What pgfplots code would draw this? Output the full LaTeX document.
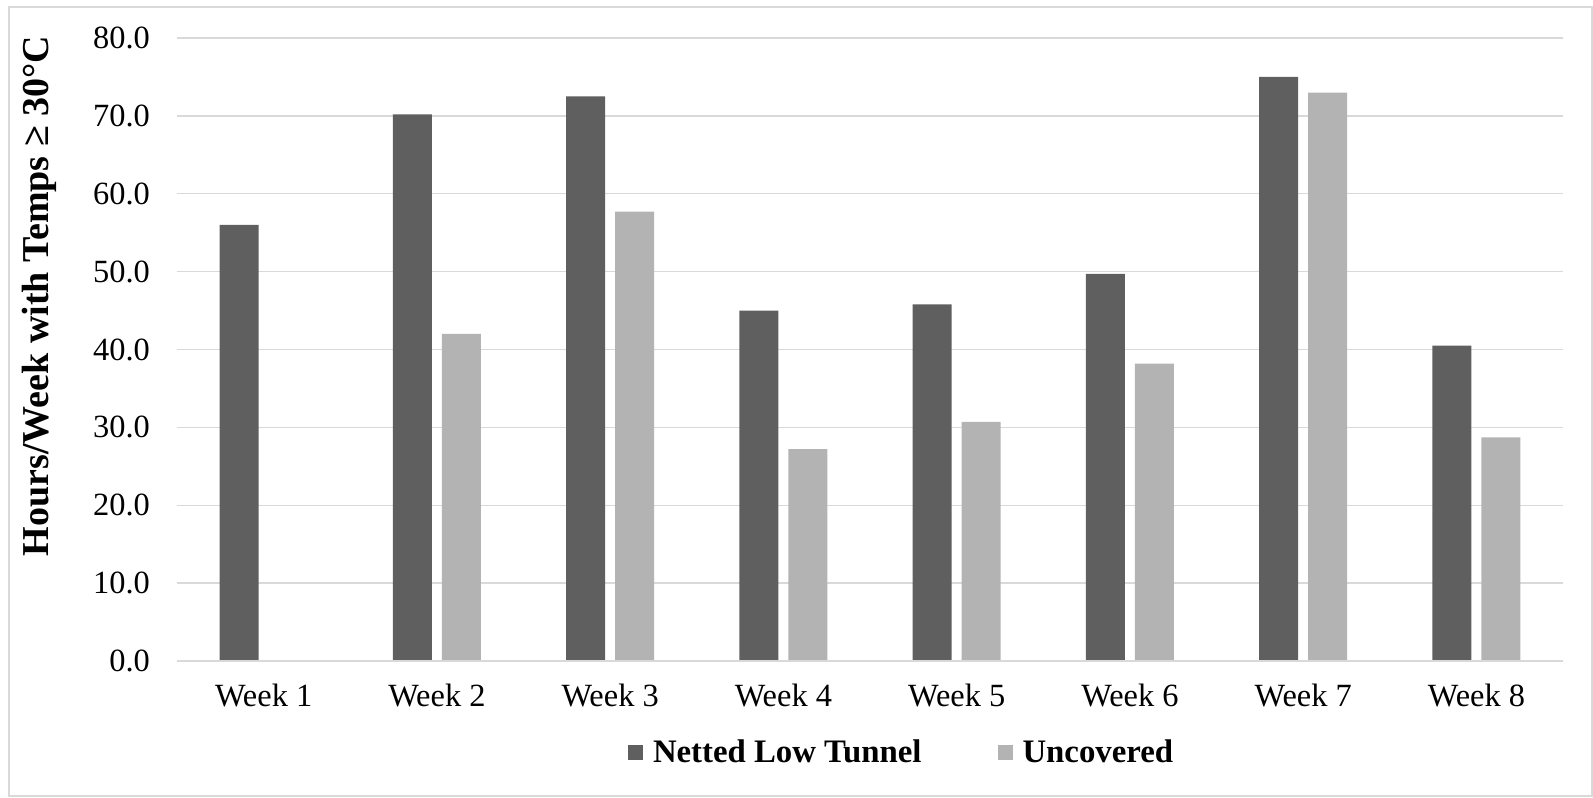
\documentclass[border=0pt]{standalone}
\usepackage{fontspec}
\setmainfont{Liberation Serif}
\usepackage{pgfplots}
\pgfplotsset{compat=1.18}

\definecolor{netted}{HTML}{5F5F5F}
\definecolor{uncov}{HTML}{B3B3B3}
\definecolor{gridc}{HTML}{D9D9D9}
\definecolor{framec}{HTML}{D9D9D9}

\begin{document}
\begin{tikzpicture}
\useasboundingbox (-88.5pt,-68pt) rectangle (708pt,330.5pt);
\draw[framec, line width=0.75pt] (-84pt,-67.5pt) rectangle (707.5pt,327pt);
\begin{axis}[
  scale only axis,
  width=693pt, height=311.5pt,
  anchor=south west, at={(0,0)},
  ybar=5pt, bar width=19.5pt,
  xmin=-0.5, xmax=7.5,
  ymin=0, ymax=80,
  xtick={0,...,7},
  xticklabels={Week 1,Week 2,Week 3,Week 4,Week 5,Week 6,Week 7,Week 8},
  ytick={0,10,...,80},
  ymajorgrids,
  grid style={gridc, line width=0.75pt},
  major tick length=0pt,
  axis line style={draw=none},
  tick label style={font=\fontsize{16.2}{19}\selectfont},
  /pgf/number format/assume math mode=true,
  yticklabel={\pgfmathprintnumber[fixed,fixed zerofill,precision=1]{\tick}},
  yticklabel style={xshift=-10pt},
  xticklabel style={yshift=-8pt},
  ylabel={\textbf{Hours/Week with Temps ≥ 30°C}},
  ylabel style={font=\fontsize{19}{22}\selectfont, at={(axis description cs:-0.0995,0.586)}, anchor=center, rotate=0},
  legend columns=2,
  legend style={draw=none, font=\bfseries\fontsize{16.4}{19}\selectfont,
    at={(axis description cs:0.5235,-0.1465)}, anchor=center,
    /tikz/every odd column/.append style={column sep=3pt},
    /tikz/every even column/.append style={column sep=36pt}},
  legend image code/.code={\fill[#1] (0pt,-3.75pt) rectangle (7.5pt,3.75pt);},
  clip=false,
]
\addplot[fill=netted, draw=none] coordinates {
  (0,56.0) (1,70.2) (2,72.5) (3,45.0) (4,45.8) (5,49.7) (6,75.0) (7,40.5)};
\addplot[fill=uncov, draw=none] coordinates {
  (0,0) (1,42.0) (2,57.7) (3,27.2) (4,30.7) (5,38.2) (6,73.0) (7,28.7)};
\draw[gridc, line width=0.75pt] (axis cs:-0.5,0) -- (axis cs:7.5,0);
\legend{Netted Low Tunnel, Uncovered}
\end{axis}
\end{tikzpicture}
\end{document}
